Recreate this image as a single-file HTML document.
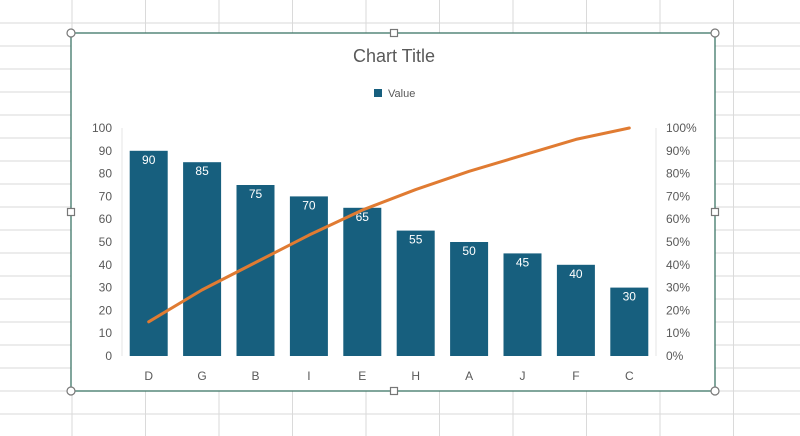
<!DOCTYPE html>
<html><head><meta charset="utf-8"><style>
body{margin:0;background:#fff;font-family:"Liberation Sans",sans-serif;}
svg{display:block}
</style></head><body>
<svg width="800" height="436">
<g id="grid"></g>
<rect x="71" y="33" width="644" height="358" fill="#fff" stroke="#3d7566" stroke-width="1.3"/>
<text x="394" y="62" font-size="18" fill="#595959" text-anchor="middle">Chart Title</text>
<rect x="374" y="89" width="8" height="8" fill="#175f7e"/>
<text x="388" y="97" font-size="11" fill="#595959">Value</text>
<line x1="122" y1="128" x2="122" y2="356" stroke="#e6e6e6"/>
<line x1="656" y1="128" x2="656" y2="356" stroke="#e6e6e6"/>
<g id="plot"></g>
<g id="handles"></g>
</svg>
<script>
const categories=["D","G","B","I","E","H","A","J","F","C"];
const values=[90,85,75,70,65,55,50,45,40,30];
const cumulativePct=[15,29,41,53,64,73,81,88,95,100];
const leftTicks=[0,10,20,30,40,50,60,70,80,90,100];
const rightTicks=[0,10,20,30,40,50,60,70,80,90,100];
const NS="http://www.w3.org/2000/svg";
function mk(t,a,p){const e=document.createElementNS(NS,t);for(const k in a)e.setAttribute(k,a[k]);p.appendChild(e);return e;}
const grid=document.getElementById('grid');
for(let y=23;y<436;y+=23){const l=mk('line',{x1:0,x2:800,y1:y,y2:y,stroke:'#dadada'},grid);

}
for(let i=0;i<11;i++){const x=72+i*73.5;const l=mk('line',{x1:x,x2:x,y1:0,y2:436,stroke:'#dadada'},grid);

}
const x0=122,x1=656,yb=356,yt=128;
const band=(x1-x0)/categories.length;
const xc=i=>x0+band*(i+0.5);
const yL=v=>yb-(v/100)*(yb-yt);
const yR=p=>yb-(p/100)*(yb-yt);
const plot=document.getElementById('plot');
leftTicks.forEach(t=>{const e=mk('text',{x:112,y:yL(t)+4,'font-size':12,fill:'#595959','text-anchor':'end'},plot);e.textContent=t;

});
rightTicks.forEach(t=>{const e=mk('text',{x:666,y:yR(t)+4,'font-size':12,fill:'#595959'},plot);e.textContent=t+'%';

});
categories.forEach((c,i)=>{
const v=values[i];const bw=38;
const r=mk('rect',{x:xc(i)-bw/2,y:yL(v),width:bw,height:yb-yL(v),fill:'#175f7e'},plot);


const t=mk('text',{x:xc(i),y:yL(v)+13,'font-size':12,fill:'#fff','text-anchor':'middle'},plot);t.textContent=v;


const c2=mk('text',{x:xc(i),y:380,'font-size':12,fill:'#595959','text-anchor':'middle'},plot);c2.textContent=c;


});
const pts=cumulativePct.map((p,i)=>xc(i)+','+yR(p)).join(' ');
const pl=mk('polyline',{points:pts,fill:'none',stroke:'#e07b32','stroke-width':3,'stroke-linejoin':'round','stroke-linecap':'round'},plot);


const hs=document.getElementById('handles');
[[71,33],[394,33],[715,33],[71,212],[715,212],[71,391],[394,391],[715,391]].forEach(([x,y],k)=>{
let h;
if(k==1||k==3||k==4||k==6)h=mk('rect',{x:x-3.5,y:y-3.5,width:7,height:7,fill:'#fff',stroke:'#777','stroke-width':1.2},hs);
else h=mk('circle',{cx:x,cy:y,r:4,fill:'#fff',stroke:'#777','stroke-width':1.2},hs);


});
</script>
</body></html>
